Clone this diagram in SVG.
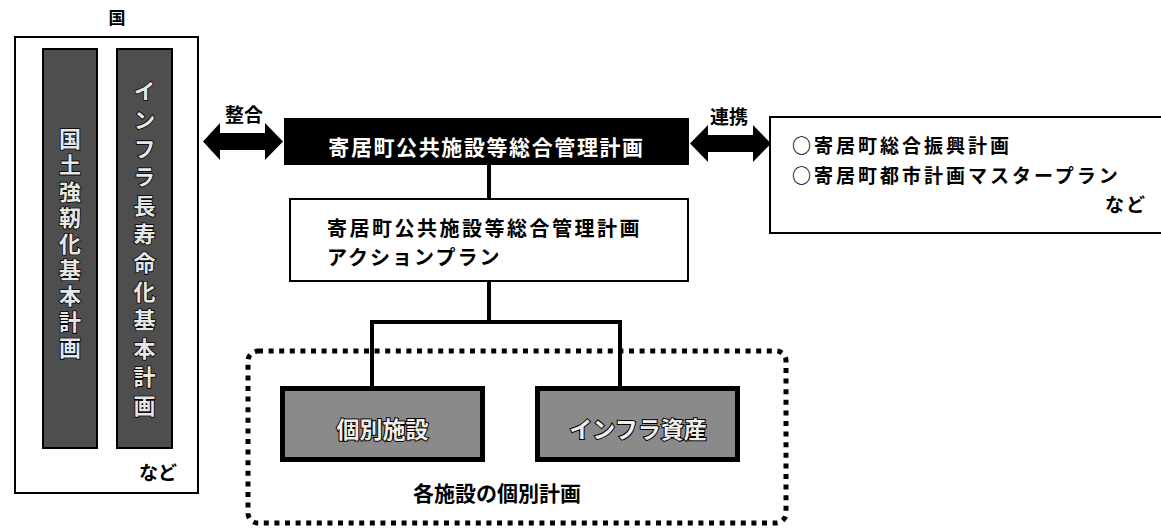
<svg xmlns="http://www.w3.org/2000/svg" width="1161" height="528" viewBox="0 0 1161 528">
<style>
.t{font-family:"Noto Sans CJK JP","Noto Sans",sans-serif;font-weight:bold;fill:#000}
.box{fill:#fff;stroke:#000;stroke-width:2}
.bar{fill:#4e4e4e;stroke:#000;stroke-width:2}
.vt{font-family:"Noto Sans CJK JP",sans-serif;font-weight:bold;font-size:22px;fill:#e6e6e6;stroke:#000;stroke-width:1.6;paint-order:stroke;writing-mode:vertical-rl}
.gbox{fill:#8a8a8a;stroke:#000;stroke-width:5}
.gt{font-family:"Noto Sans CJK JP",sans-serif;font-weight:bold;font-size:23px;fill:#eee;stroke:#000;stroke-width:2;paint-order:stroke;text-anchor:middle}
.ln{fill:none;stroke:#000;stroke-width:4}
</style>
<rect width="1161" height="528" fill="#fff"/>

<g id="kuni">
  <text class="t" x="117" y="24" font-size="17" text-anchor="middle">国</text>
  <rect class="box" x="15" y="37" width="183" height="456"/>
  <rect class="bar" x="43" y="49" width="54" height="399"/>
  <text class="vt" x="70" y="128" letter-spacing="4.1">国土強靭化基本計画</text>
  <rect class="bar" x="117" y="49" width="55" height="399"/>
  <text class="vt" x="144.5" y="80" letter-spacing="6.6">インフラ長寿命化基本計画</text>
  <text class="t" x="158" y="480" font-size="19" text-anchor="middle">など</text>
</g>

<g id="sogo">
  <rect x="284" y="118" width="405" height="47" fill="#000"/>
  <text class="t" x="486.5" y="155" font-size="21" text-anchor="middle" letter-spacing="1.6" style="fill:#fff">寄居町公共施設等総合管理計画</text>
</g>

<g id="renkei">
  <rect class="box" x="770" y="117" width="400" height="116"/>
  <text class="t" x="792" y="153" font-size="19" letter-spacing="3">○寄居町総合振興計画</text>
  <text class="t" x="792" y="183" font-size="19" letter-spacing="3">○寄居町都市計画マスタープラン</text>
  <text class="t" x="1126" y="212" font-size="19" text-anchor="middle" letter-spacing="2">など</text>
</g>

<g id="action">
  <rect class="box" x="290" y="199" width="398" height="82"/>
  <text class="t" x="327" y="236" font-size="20" letter-spacing="2.5">寄居町公共施設等総合管理計画</text>
  <text class="t" x="327" y="265" font-size="20" letter-spacing="2">アクションプラン</text>
</g>

<g id="kobetsu">
  <rect x="248" y="351" width="538" height="172" rx="10" fill="none" stroke="#000" stroke-width="5" stroke-dasharray="5 5.6"/>
  <text class="t" x="497" y="501" font-size="21" text-anchor="middle">各施設の個別計画</text>
</g>

<g id="shisetsu">
  <rect class="gbox" x="282.5" y="388.5" width="200" height="71"/>
  <text class="gt" x="382.5" y="438">個別施設</text>
</g>

<g id="infra">
  <rect class="gbox" x="537.5" y="388.5" width="200" height="71"/>
  <text class="gt" x="638" y="438">インフラ資産</text>
</g>

<g id="connectors">
  <polygon points="203,141.5 220,123 220,133 265,133 265,123 283,141.5 265,160 265,150 220,150 220,160" fill="#000"/>
  <text class="t" x="244" y="122" font-size="19" text-anchor="middle">整合</text>
  <polygon points="690,143.5 708,125 708,135 753,135 753,125 771,143.5 753,162 753,152 708,152 708,162" fill="#000"/>
  <text class="t" x="729" y="124" font-size="19" text-anchor="middle">連携</text>
  <line class="ln" x1="489" y1="165" x2="489" y2="199"/>
  <line class="ln" x1="489" y1="281" x2="489" y2="322"/>
  <polyline class="ln" points="372,388 372,322 620,322 620,388"/>
</g>
</svg>
